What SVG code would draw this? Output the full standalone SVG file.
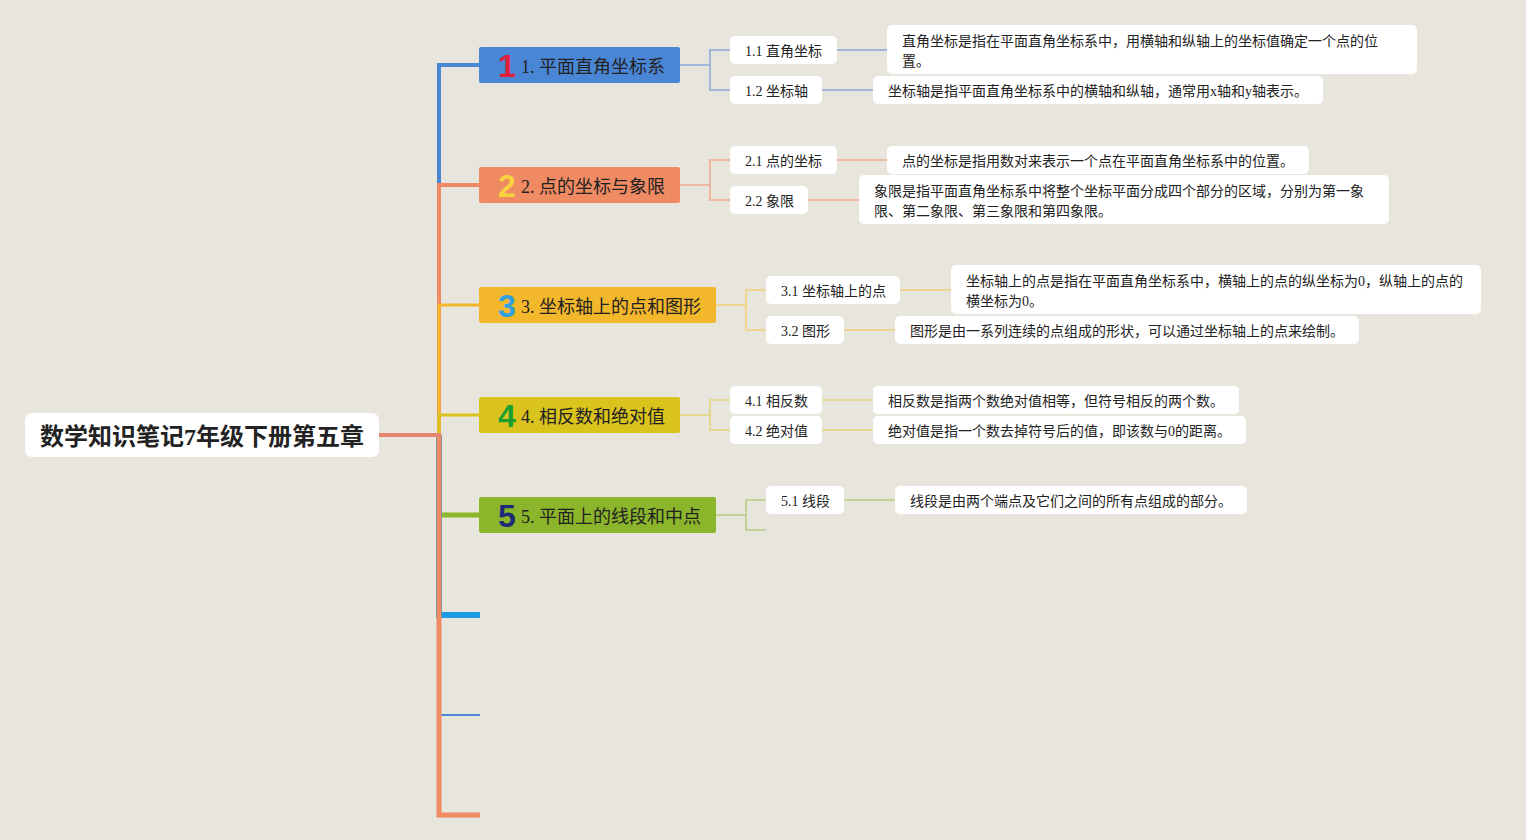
<svg xmlns="http://www.w3.org/2000/svg" width="1526" height="840" viewBox="0 0 1526 840">
<style>
.t{font-family:"Liberation Serif","Noto Sans CJK SC",serif;fill:#222;}
.root{font-size:24px;font-weight:bold;}
.bt{font-size:18px;}
.st{font-size:14px;}
.num{font-family:"Liberation Sans","Noto Sans",sans-serif;font-size:32px;font-weight:900;text-anchor:middle;}
.box{fill:#fff;}
.c{fill:none;stroke-linejoin:miter;}
.sc{fill:none;stroke-width:1.5;}
</style>
<rect width="1526" height="840" fill="#E8E5DC"/>
<g id="connectors">
  <path class="c" d="M480,65 H439 V435" stroke="#4A86D6" stroke-width="4"/>
  <path class="c" d="M480,185 H439 V435" stroke="#F08A62" stroke-width="4"/>
  <path class="c" d="M480,305 H439 V435" stroke="#F2B72A" stroke-width="3"/>
  <path class="c" d="M480,415 H439 V435" stroke="#D9C31C" stroke-width="3"/>
  <path class="c" d="M480,515 H439 V435" stroke="#8BB52A" stroke-width="5"/>
  <path class="c" d="M480,615 H439 V435" stroke="#1E9AE0" stroke-width="6"/>
  <path class="c" d="M480,715 H439 V435" stroke="#4A86D6" stroke-width="2"/>
  <path class="c" d="M480,815 H439 V435" stroke="#F08A62" stroke-width="5"/>
  <path class="c" d="M379,435 H441" stroke="#E4876C" stroke-width="4"/>
  <path class="sc" stroke="#88A8D8" d="M680,65 H710 M730,50 H710 V90 H730 M837,50 H887 M822,90 H873"/>
  <path class="sc" stroke="#F0A88C" d="M680,185 H710 M730,160 H710 V200 H730 M837,160 H887 M808,200 H859"/>
  <path class="sc" stroke="#F2CC78" d="M716,305 H746 M766,290 H746 V330 H766 M900,290 H951 M844,330 H895"/>
  <path class="sc" stroke="#E2D478" d="M680,415 H710 M730,400 H710 V430 H730 M822,400 H873 M822,430 H873"/>
  <path class="sc" stroke="#B8CC80" d="M716,515 H746 M766,500 H746 V530 H766 M844,500 H895"/>
</g>
<g id="root">
  <rect class="box" x="25" y="413" width="354" height="44" rx="7"/>
  <text class="t root" x="202" y="445" text-anchor="middle">数学知识笔记7年级下册第五章</text>
</g>
<g id="b1">
  <rect x="479" y="47" width="201" height="36" rx="2" fill="#4A86D6"/>
  <text class="num" x="507" y="77" fill="#E0203A">1</text>
  <text class="t bt" x="521" y="73">1. 平面直角坐标系</text>
</g>
<g id="b2">
  <rect x="479" y="167" width="201" height="36" rx="2" fill="#F08A62"/>
  <text class="num" x="507" y="197" fill="#F7D43C">2</text>
  <text class="t bt" x="521" y="193">2. 点的坐标与象限</text>
</g>
<g id="b3">
  <rect x="479" y="287" width="237" height="36" rx="2" fill="#F2B72A"/>
  <text class="num" x="507" y="317" fill="#2EA0E0">3</text>
  <text class="t bt" x="521" y="313">3. 坐标轴上的点和图形</text>
</g>
<g id="b4">
  <rect x="479" y="397" width="201" height="36" rx="2" fill="#D9C31C"/>
  <text class="num" x="507" y="427" fill="#1EA030">4</text>
  <text class="t bt" x="521" y="423">4. 相反数和绝对值</text>
</g>
<g id="b5">
  <rect x="479" y="497" width="237" height="36" rx="2" fill="#8BB52A"/>
  <text class="num" x="507" y="527" fill="#1E2A78">5</text>
  <text class="t bt" x="521" y="523">5. 平面上的线段和中点</text>
</g>
<g id="s11">
  <rect class="box" x="730" y="36" width="107" height="28" rx="5"/>
  <text class="t st" x="745" y="56">1.1 直角坐标</text>
</g>
<g id="s12">
  <rect class="box" x="730" y="76" width="92" height="28" rx="5"/>
  <text class="t st" x="745" y="96">1.2 坐标轴</text>
</g>
<g id="l11">
  <rect class="box" x="887" y="25" width="530" height="49" rx="5"/>
  <text class="t st" x="902" y="46">直角坐标是指在平面直角坐标系中，用横轴和纵轴上的坐标值确定一个点的位</text>
  <text class="t st" x="902" y="66">置。</text>
</g>
<g id="l12">
  <rect class="box" x="873" y="76" width="450" height="28" rx="5"/>
  <text class="t st" x="888" y="96">坐标轴是指平面直角坐标系中的横轴和纵轴，通常用x轴和y轴表示。</text>
</g>
<g id="s21">
  <rect class="box" x="730" y="146" width="107" height="28" rx="5"/>
  <text class="t st" x="745" y="166">2.1 点的坐标</text>
</g>
<g id="s22">
  <rect class="box" x="730" y="186" width="78" height="28" rx="5"/>
  <text class="t st" x="745" y="206">2.2 象限</text>
</g>
<g id="l21">
  <rect class="box" x="887" y="146" width="422" height="28" rx="5"/>
  <text class="t st" x="902" y="166">点的坐标是指用数对来表示一个点在平面直角坐标系中的位置。</text>
</g>
<g id="l22">
  <rect class="box" x="859" y="175" width="530" height="49" rx="5"/>
  <text class="t st" x="874" y="196">象限是指平面直角坐标系中将整个坐标平面分成四个部分的区域，分别为第一象</text>
  <text class="t st" x="874" y="216">限、第二象限、第三象限和第四象限。</text>
</g>
<g id="s31">
  <rect class="box" x="766" y="276" width="134" height="28" rx="5"/>
  <text class="t st" x="781" y="296">3.1 坐标轴上的点</text>
</g>
<g id="s32">
  <rect class="box" x="766" y="316" width="78" height="28" rx="5"/>
  <text class="t st" x="781" y="336">3.2 图形</text>
</g>
<g id="l31">
  <rect class="box" x="951" y="265" width="530" height="49" rx="5"/>
  <text class="t st" x="966" y="286">坐标轴上的点是指在平面直角坐标系中，横轴上的点的纵坐标为0，纵轴上的点的</text>
  <text class="t st" x="966" y="306">横坐标为0。</text>
</g>
<g id="l32">
  <rect class="box" x="895" y="316" width="464" height="28" rx="5"/>
  <text class="t st" x="910" y="336">图形是由一系列连续的点组成的形状，可以通过坐标轴上的点来绘制。</text>
</g>
<g id="s41">
  <rect class="box" x="730" y="386" width="92" height="28" rx="5"/>
  <text class="t st" x="745" y="406">4.1 相反数</text>
</g>
<g id="s42">
  <rect class="box" x="730" y="416" width="92" height="28" rx="5"/>
  <text class="t st" x="745" y="436">4.2 绝对值</text>
</g>
<g id="l41">
  <rect class="box" x="873" y="386" width="366" height="28" rx="5"/>
  <text class="t st" x="888" y="406">相反数是指两个数绝对值相等，但符号相反的两个数。</text>
</g>
<g id="l42">
  <rect class="box" x="873" y="416" width="373" height="28" rx="5"/>
  <text class="t st" x="888" y="436">绝对值是指一个数去掉符号后的值，即该数与0的距离。</text>
</g>
<g id="s51">
  <rect class="box" x="766" y="486" width="78" height="28" rx="5"/>
  <text class="t st" x="781" y="506">5.1 线段</text>
</g>
<g id="l51">
  <rect class="box" x="895" y="486" width="352" height="28" rx="5"/>
  <text class="t st" x="910" y="506">线段是由两个端点及它们之间的所有点组成的部分。</text>
</g>
</svg>
